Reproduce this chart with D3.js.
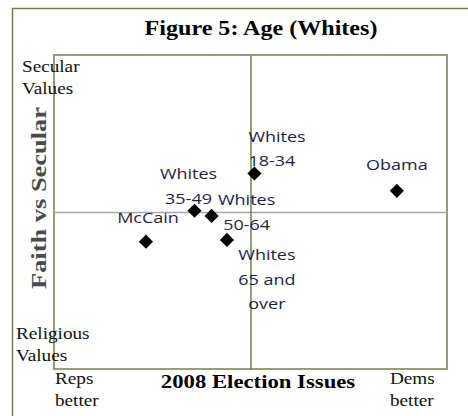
<!DOCTYPE html>
<html><head><meta charset="utf-8">
<script src="https://cdn.jsdelivr.net/npm/d3@7"></script>
<style>
html,body{margin:0;padding:0;background:#fff;}
svg{display:block;}
</style></head>
<body>
<svg id="chart" width="468" height="416"></svg>
<script>
// ---- data ----
const labels = ["Whites 18-34", "Obama", "Whites 35-49", "Whites 50-64", "McCain", "Whites 65 and over"];
const labelLines = [["Whites","18-34"], ["Obama"], ["Whites","35-49"], ["Whites","50-64"], ["McCain"], ["Whites","65 and","over"]];
const issues = [0.02, 0.745, -0.285, -0.198, -0.532, -0.12];   // x: 2008 Election Issues
const faith  = [0.245, 0.135, 0.008, -0.025, -0.189, -0.178];   // y: Faith vs Secular
const xDomain = [-1, 1];
const yDomain = [-1, 1];

// ---- layout ----
const svg = d3.select("#chart");
const x = d3.scaleLinear().domain(xDomain).range([54, 447]);
const y = d3.scaleLinear().domain(yDomain).range([369, 55]);
const frame = "#6f7f4c";
const serif = "'Liberation Serif','Times New Roman',serif";
const sans = "'Open Sans','Noto Sans',sans-serif";
const SX = 1.2; // horizontal stretch of the original picture's text

function stretchedText(parent, tx, ty, rot) {
  return parent.append("text")
    .attr("transform", `translate(${tx},${ty})${rot ? ` rotate(${rot})` : ""} scale(${SX},1)`);
}

// outer border
svg.append("rect").attr("x", 12.5).attr("y", 8.5).attr("width", 470).attr("height", 420)
  .attr("fill", "none").attr("stroke", frame).attr("stroke-width", 1.5);

// plot area
svg.append("rect").attr("x", x(-1)).attr("y", y(1)).attr("width", x(1) - x(-1)).attr("height", y(-1) - y(1))
  .attr("fill", "#fff").attr("stroke", frame).attr("stroke-width", 1.5);

// axes through zero
const xAxis = d3.axisBottom(x).tickValues([]).tickSizeOuter(0);
svg.append("g").attr("transform", `translate(0,${y(0)})`).call(xAxis)
  .call(g => g.select(".domain").attr("stroke", "#a6a6a6").attr("stroke-width", 1.5));
const yAxis = d3.axisLeft(y).tickValues([]).tickSizeOuter(0);
svg.append("g").attr("transform", `translate(${x(0)},0)`).call(yAxis)
  .call(g => g.select(".domain").attr("stroke", frame).attr("stroke-width", 1.5));

// points
const pts = labels.map((l, i) => ({ name: l, lines: labelLines[i], x: issues[i], y: faith[i] }));
svg.append("g").selectAll("path").data(pts).join("path")
  .attr("d", d3.symbol().type(d3.symbolSquare).size(100))
  .attr("transform", d => `translate(${x(d.x)},${y(d.y)}) rotate(45)`)
  .attr("fill", "#000");

// label placement (offsets from point, px)
const labelPos = {
  "Whites 18-34": { dx: -6, dy: -38, anchor: "start" },
  "Obama": { dx: 0, dy: -27, anchor: "middle" },
  "Whites 35-49": { dx: -6, dy: -38, anchor: "middle" },
  "Whites 50-64": { dx: 35, dy: -17, anchor: "middle" },
  "McCain": { dx: 2, dy: -25, anchor: "middle" },
  "Whites 65 and over": { dx: 40, dy: 14, anchor: "middle" }
};
const lbl = svg.append("g").attr("font-family", sans).attr("font-size", 15).attr("fill", "#1e2440");
pts.forEach(d => {
  const p = labelPos[d.name];
  const t = stretchedText(lbl, x(d.x) + p.dx, y(d.y) + p.dy).attr("text-anchor", p.anchor)
    .attr("dominant-baseline", "central");
  d.lines.forEach((ln, j) => t.append("tspan").attr("x", 0).attr("dy", j === 0 ? 0 : 24.5).text(ln));
});

// titles
stretchedText(svg, 261, 35).attr("text-anchor", "middle")
  .attr("font-family", serif).attr("font-weight", "bold").attr("font-size", 20).attr("fill", "#000")
  .attr("textLength", 194).attr("lengthAdjust", "spacingAndGlyphs")
  .text("Figure 5: Age (Whites)");
stretchedText(svg, 258, 388).attr("text-anchor", "middle")
  .attr("font-family", serif).attr("font-weight", "bold").attr("font-size", 19).attr("fill", "#000")
  .attr("textLength", 162).attr("lengthAdjust", "spacingAndGlyphs")
  .text("2008 Election Issues");
svg.append("text").attr("transform", "translate(46,198) rotate(-90)").attr("text-anchor", "middle")
  .attr("font-family", serif).attr("font-weight", "bold").attr("font-size", 20).attr("fill", "#4a4a4a")
  .attr("textLength", 182).attr("lengthAdjust", "spacingAndGlyphs")
  .text("Faith vs Secular");

// corner labels
const corner = [
  { lines: ["Secular", "Values"], x: 22, y: 72 },
  { lines: ["Religious", "Values"], x: 16, y: 339 },
  { lines: ["Reps", "better"], x: 55, y: 384 },
  { lines: ["Dems", "better"], x: 390, y: 384 }
];
corner.forEach(c => {
  const t = stretchedText(svg, c.x, c.y).attr("font-family", serif).attr("font-size", 16).attr("fill", "#111");
  c.lines.forEach((ln, j) => t.append("tspan").attr("x", 0).attr("y", j * 22).text(ln));
});
</script>
</body></html>
